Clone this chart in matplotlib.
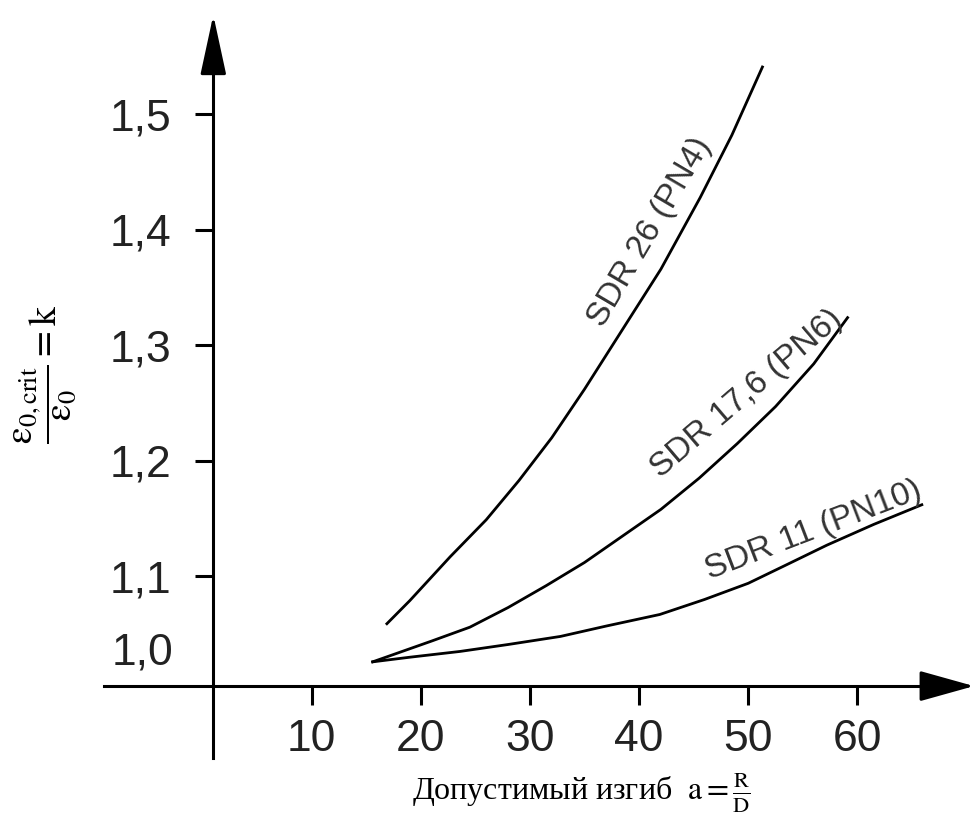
import matplotlib
matplotlib.use("Agg")
import matplotlib.pyplot as plt

# ========= datos =========
sdr26_x = [16.9, 19, 22.7, 26, 29, 32, 35, 38.5, 42, 45.6, 48.5, 51.3]
sdr26_y = [1.059, 1.079, 1.117, 1.149, 1.183, 1.220, 1.262, 1.314, 1.366,
           1.428, 1.482, 1.541]

sdr176_x = [15.6, 18, 21, 24.5, 28, 31.5, 35, 38.5, 42, 45.5, 49, 52.5, 56, 59.1]
sdr176_y = [1.026, 1.034, 1.044, 1.056, 1.073, 1.092, 1.112, 1.135, 1.158,
            1.185, 1.215, 1.247, 1.284, 1.324]

sdr11_x = [15.6, 19, 23.6, 28, 32.8, 37, 41.9, 46, 50, 53.5, 57.2, 61.5, 65.9]
sdr11_y = [1.026, 1.030, 1.035, 1.041, 1.048, 1.057, 1.067, 1.080, 1.094,
           1.110, 1.127, 1.145, 1.162]

x_ticks = [10, 20, 30, 40, 50, 60]
x_tick_labels = ["10", "20", "30", "40", "50", "60"]
y_ticks = [1.1, 1.2, 1.3, 1.4, 1.5]
y_tick_labels = ["1,1", "1,2", "1,3", "1,4", "1,5"]

labels = ["SDR 26 (PN4)", "SDR 17,6 (PN6)", "SDR 11 (PN10)"]

plt.rcParams["mathtext.fontset"] = "stix"
sans = ["Liberation Sans", "DejaVu Sans"]
serif = ["Liberation Serif", "DejaVu Serif"]
tick_color = "#222222"
label_color = "#333333"

fig = plt.figure(figsize=(9.74, 8.24), dpi=100)
ax = fig.add_axes([0, 0, 1, 1])
ax.set_xlim(-18.54, 70.68)
ax.set_ylim(0.8856, 1.599)

# ejes cruzados
for s in ["top", "right"]:
    ax.spines[s].set_visible(False)
ax.spines["left"].set_position(("data", 1.0))
ax.spines["left"].set_bounds(0.943, 1.55)
ax.spines["bottom"].set_position(("data", 1.005))
ax.spines["bottom"].set_bounds(-9.0, 67.0)
for s in ["left", "bottom"]:
    ax.spines[s].set_linewidth(2.2)

# flechas
arrow_kw = dict(arrowstyle="-|>,head_length=3.7,head_width=0.8",
                mutation_scale=10, color="black", lw=2.2,
                shrinkA=0, shrinkB=0)
ax.annotate("", xy=(1.0, 1.586), xytext=(1.0, 1.54), arrowprops=arrow_kw)
ax.annotate("", xy=(70.68, 1.005), xytext=(66.0, 1.005),
            arrowprops=dict(arrow_kw, arrowstyle="-|>,head_length=3.4,head_width=0.95"))

ax.set_xticks(x_ticks, labels=x_tick_labels)
ax.set_yticks(y_ticks, labels=y_tick_labels)
ax.tick_params(axis="both", direction="out", width=2.2, labelsize=32,
               labelcolor=tick_color)
ax.tick_params(axis="x", length=13.5, pad=10)
ax.tick_params(axis="y", length=13, pad=17)
for t in ax.get_xticklabels() + ax.get_yticklabels():
    t.set_fontfamily(sans)
ax.text(-2.7, 1.034, "1,0", ha="right", va="center", fontsize=32,
        color=tick_color, family=sans)

# curvas
ax.plot(sdr26_x, sdr26_y, color="black", lw=2.0)
ax.plot(sdr176_x, sdr176_y, color="black", lw=2.0)
ax.plot(sdr11_x, sdr11_y, color="black", lw=2.0)

# etiquetas de curvas
ax.text(41.0, 1.398, labels[0], rotation=59.5, rotation_mode="anchor",
        ha="center", va="center", fontsize=24, color=label_color, family=sans)
ax.text(49.9, 1.258, labels[1], rotation=40.5, rotation_mode="anchor",
        ha="center", va="center", fontsize=24, color=label_color, family=sans)
ax.text(56.0, 1.140, labels[2], rotation=21, rotation_mode="anchor",
        ha="center", va="center", fontsize=24, color=label_color, family=sans)

# títulos de ejes
fig.text(46 / 974, 1 - 374 / 824,
         r"$\dfrac{\mathrm{\varepsilon_{0,crit}}}{\mathrm{\varepsilon_0}} = \mathrm{k}$",
         rotation=90, ha="center", va="center", fontsize=27, color="black")
fig.text(581 / 974, 1 - 800 / 824,
         r"Допустимый изгиб  $\mathrm{a} = \frac{\mathrm{R}}{\mathrm{D}}$",
         ha="center", va="baseline", fontsize=23, color="black", family=serif)

fig.savefig("out.png", dpi=100)
plt.close(fig)
